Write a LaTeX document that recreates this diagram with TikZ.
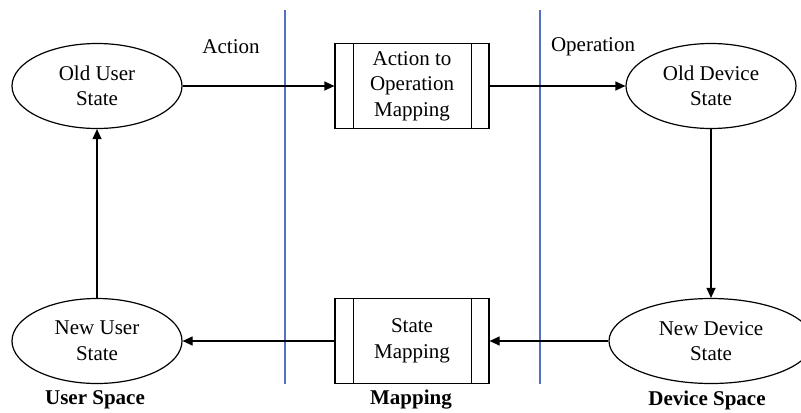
\documentclass[tikz,border=0pt]{standalone}
\usepackage{fontspec}
\setmainfont{Liberation Serif}
\usetikzlibrary{shapes.geometric,arrows.meta}
\definecolor{divblue}{RGB}{84,112,196}
\begin{document}
\begin{tikzpicture}[x=0.5pt, y=-0.5pt, line width=0.6pt,
		every node/.style={font=\fontsize{10.5}{12.8}\selectfont},
		state/.style={ellipse, draw, inner sep=0pt, minimum width=85pt, minimum height=42.5pt, align=center},
		mapbox/.style={rectangle, draw, inner sep=0pt, minimum width=77pt, minimum height=42.5pt, align=center},
		space/.style={font=\fontsize{10.5}{12.8}\selectfont\bfseries},
		flow/.style={-{Triangle[length=5pt,width=4.5pt]}}]
		\useasboundingbox (0,0) rectangle (801,412);
		
		\node[state] (ou) at (97,86) {Old User\\State};
		\node[state] (nu) at (97,341) {New User\\State};
		\node[state] (od) at (711,86) {Old Device\\State};
		\node[state, minimum width=102pt] (nd) at (711,341) {New Device\\State};
		
		\node[mapbox] (m1) at (412,86) {Action to\\Operation\\Mapping};
		\node[mapbox] (m2) at (412,341) {State\\Mapping};
		
		\foreach \b in {m1,m2} {
			\draw ([xshift=9.5pt]\b.north west) -- ([xshift=9.5pt]\b.south west);
			\draw ([xshift=-9pt]\b.north east) -- ([xshift=-9pt]\b.south east);
		}
		
		\node (act) at (231,47) {Action};
		\node (op) at (593,47) {Operation};
		
		\node[space] (us) at (95,400) {User Space};
		\node[space] (mp) at (411,400) {Mapping};
		\node[space] (ds) at (707,400) {Device Space};
		
		\foreach \n\x in {1/285, 2/540} {
			\coordinate (t\n) at (\x,10);
			\coordinate (b\n) at (\x,384);
			\draw[divblue, line width=0.9pt] (t\n) -- (b\n);
		}
		
		\foreach \p\q in {ou/m1, m1/od, od/nd, nd/m2, m2/nu, nu/ou}
		\draw[flow] (\p) -- (\q);
	\end{tikzpicture}
\end{document}
